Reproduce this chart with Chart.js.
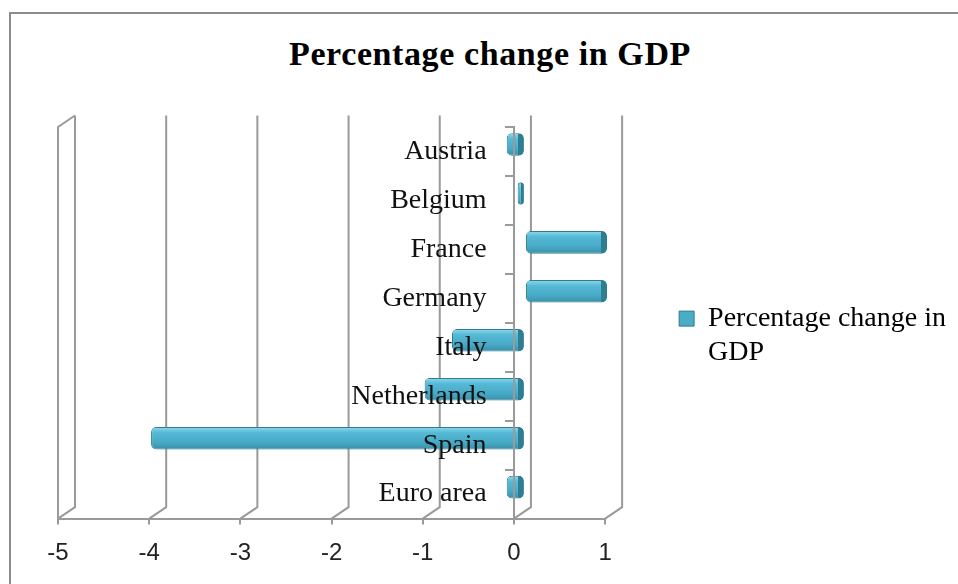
<!DOCTYPE html>
<html>
<head>
<meta charset="utf-8">
<script src="https://cdn.jsdelivr.net/npm/chart.js@4.4.0/dist/chart.umd.min.js"></script>
<style>
  html, body { margin: 0; padding: 0; background: #fff; overflow: hidden; }
  #wrap { position: relative; width: 958px; height: 584px; }
  #frame { position: absolute; left: 9px; top: 12px; width: 1000px; height: 700px; border: 2px solid #8c8c8c; }
  #title { position: absolute; left: 0; top: 34px; width: 980px; text-align: center;
           font: bold 34px "Liberation Serif", "Times New Roman", serif; letter-spacing: 0.6px;
           line-height: 40px; color: #000; }
  #graph1 { position: absolute; left: 0; top: 0; }
</style>
</head>
<body>
<div id="wrap">
  <div id="frame"></div>
  <div id="title">Percentage change in GDP</div>
  <canvas id="graph1" width="958" height="584"></canvas>
</div>
<script>
var categories = ['Austria', 'Belgium', 'France', 'Germany', 'Italy', 'Netherlands', 'Spain', 'Euro area'];
var gdpChange = [-0.2, -0.08, 0.9, 0.9, -0.8, -1.1, -4.1, -0.2];
var seriesName = 'Percentage change in GDP';
var legendLines = ['Percentage change in', 'GDP', ''];
var xMin = -5;
var xMax = 1;

var gridColor = '#9a9a9a';
var depthX = 17, depthY = 11.5;   // back wall offset
var barShiftX = 11, barShiftY = 7; // bars sit half way into the depth

  // 3d floor / wall lines and bar shift
  const wallPlugin = {
    id: 'wall',
    beforeDatasetsDraw(chart) {
      const ctx = chart.ctx;
      const a = chart.chartArea;
      const x = chart.scales.x;
      ctx.save();
      ctx.strokeStyle = gridColor;
      ctx.lineWidth = 2;
      ctx.beginPath();
      ctx.moveTo(a.left, a.bottom);
      ctx.lineTo(a.left, a.top);
      ctx.lineTo(a.left + depthX, a.top - depthY);
      x.ticks.forEach(function (t) {
        const px = x.getPixelForValue(t.value);
        ctx.moveTo(px, a.bottom);
        ctx.lineTo(px + depthX, a.bottom - depthY);
        ctx.lineTo(px + depthX, a.top - depthY);
      });
      ctx.stroke();
      ctx.restore();
      ctx.save();
      ctx.translate(barShiftX, -barShiftY);
    },
    afterDatasetsDraw(chart) {
      chart.ctx.restore();
    }
  };

  function barFill(c) {
    const chart = c.chart;
    if (!chart.chartArea || c.dataIndex === undefined) return '#4bacc6';
    const yc = chart.scales.y.getPixelForValue(c.dataIndex);
    const g = chart.ctx.createLinearGradient(0, yc - 11, 0, yc + 11);
    g.addColorStop(0, '#8fd6ea');
    g.addColorStop(0.25, '#55bad6');
    g.addColorStop(0.7, '#47a9c5');
    g.addColorStop(1, '#3a8fa8');
    return g;
  }

  const config = {
    type: 'bar',
    data: {
      labels: categories,
      datasets: [{
        label: seriesName,
        data: gdpChange,
        yAxisID: 'y',
        backgroundColor: barFill,
        borderColor: '#2d7d93',
        borderWidth: { left: 1, top: 1, bottom: 1, right: 6 },
        borderSkipped: false,
        borderRadius: 5,
        barPercentage: 0.46,
        categoryPercentage: 1
      }]
    },
    options: {
      indexAxis: 'y',
      responsive: false,
      animation: false,
      layout: { padding: { left: 58, top: 127, right: 2, bottom: 1 } },
      plugins: {
        title: { display: false },
        tooltip: { enabled: false },
        legend: {
          display: true,
          position: 'right',
          maxWidth: 400,
          onClick: function () {},
          labels: {
            boxWidth: 15,
            boxHeight: 15,
            padding: 74,
            color: '#111',
            font: { family: '"Liberation Serif", "Times New Roman", serif', size: 28 },
            generateLabels: function (chart) {
              return [{
                text: legendLines,
                fillStyle: '#4bacc6',
                strokeStyle: '#2d7d93',
                lineWidth: 1,
                datasetIndex: 0,
                hidden: false
              }];
            }
          }
        }
      },
      scales: {
        x: {
          type: 'linear',
          min: xMin,
          max: xMax,
          ticks: {
            stepSize: 1,
            padding: 16,
            color: '#222',
            font: { family: '"Liberation Sans", Arial, sans-serif', size: 24, lineHeight: 1.1 }
          },
          grid: { display: true, drawOnChartArea: false, tickLength: 6, color: gridColor, lineWidth: 2 },
          border: { display: true, color: gridColor, width: 2 }
        },
        // category labels, right aligned a little left of zero
        y: {
          type: 'category',
          axis: 'y',
          position: { x: -0.3 },
          offset: true,
          ticks: {
            z: 2,
            color: '#111',
            font: { family: '"Liberation Serif", "Times New Roman", serif', size: 28 }
          },
          grid: { display: false },
          border: { display: false }
        },
        // the category axis line at zero with its tick marks
        y2: {
          type: 'category',
          axis: 'y',
          position: { x: 0 },
          offset: true,
          ticks: { display: false },
          grid: { display: true, z: 1, offset: true, drawOnChartArea: false, tickLength: 8, color: gridColor, lineWidth: 2 },
          border: { display: true, z: 1, color: gridColor, width: 2 }
        }
      }
    },
    plugins: [wallPlugin]
  };

  var myChart = new Chart(document.getElementById('graph1'), config);
</script>
</body>
</html>
